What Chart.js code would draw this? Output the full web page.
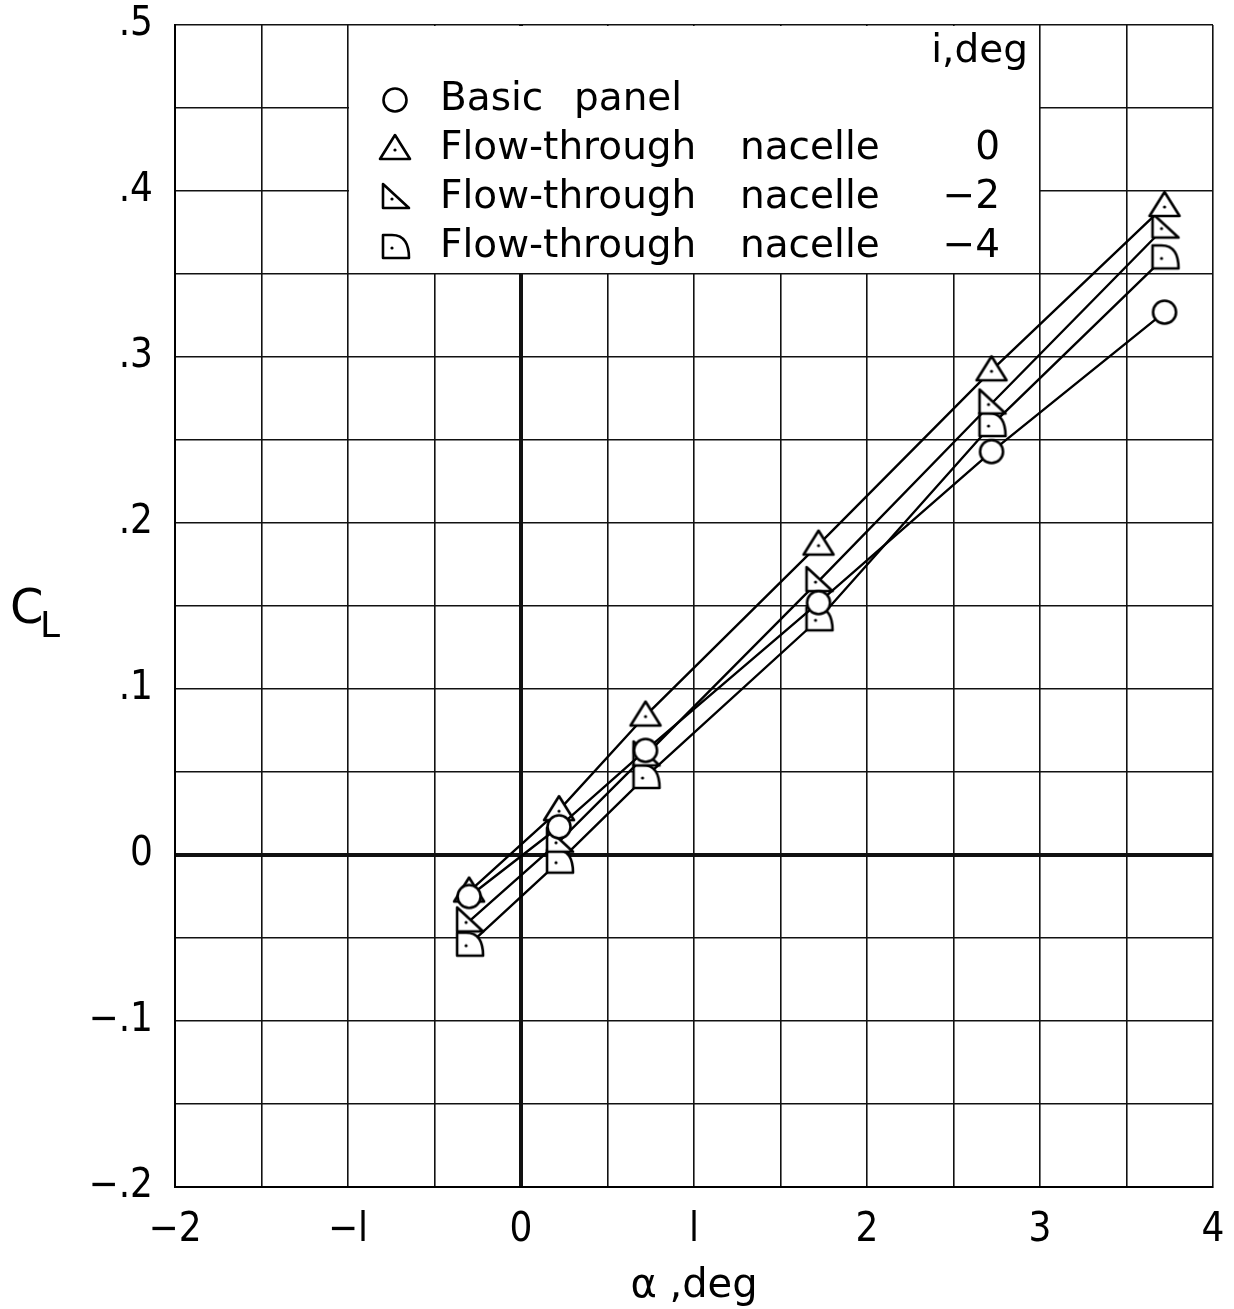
<!DOCTYPE html>
<html><head><meta charset="utf-8">
<script src="https://cdn.jsdelivr.net/npm/chart.js@4.4.1/dist/chart.umd.min.js"></script>
<style>html,body{margin:0;padding:0;background:#fff;}#wrap{width:1234px;height:1309px;position:relative}</style>
</head><body><div id="wrap"><canvas id="c" width="1234" height="1309"></canvas></div>
<script>
// ---- data ----
const alphaDeg = [-0.3, 0.22, 0.72, 1.72, 2.72, 3.72];
const clBasic  = [-0.025, 0.017, 0.063, 0.152, 0.243, 0.327];
const clNac0   = [-0.022, 0.027, 0.084, 0.187, 0.292, 0.391];
const clNacM2  = [-0.040, 0.008, 0.060, 0.165, 0.272, 0.378];
const clNacM4  = [-0.054, -0.004, 0.047, 0.142, 0.259, 0.360];
const seriesNames = ['Basic panel', 'Flow-through nacelle', 'Flow-through nacelle', 'Flow-through nacelle'];
const incidenceDeg = ['', '0', '−2', '−4'];
const xTickValues = [-2, -1, 0, 1, 2, 3, 4];
const xTickLabels = ['−2', '−l', '0', 'l', '2', '3', '4'];
const yTickValues = [-0.2, -0.1, 0, 0.1, 0.2, 0.3, 0.4, 0.5];
const yTickLabels = ['−.2', '−.1', '0', '.1', '.2', '.3', '.4', '.5'];

const FONT = "'DejaVu Sans',sans-serif";
const FONTC = "'DejaVu Sans Condensed','DejaVu Sans',sans-serif";

// ---- marker images ----
function mk(kind) {
  const s = 36, c = document.createElement('canvas');
  c.width = s; c.height = s;
  const g = c.getContext('2d');
  g.lineWidth = 2.6; g.strokeStyle = '#000'; g.fillStyle = '#fff';
  g.lineJoin = 'round';
  const m = s / 2;
  g.beginPath();
  if (kind === 'circle') {
    g.arc(m, m, 11.5, 0, Math.PI * 2);
  } else if (kind === 'tri') {
    g.moveTo(m, m - 14); g.lineTo(m + 15, m + 10); g.lineTo(m - 15, m + 10); g.closePath();
  } else if (kind === 'rtri') {
    g.moveTo(m - 12, m - 14); g.lineTo(m + 14, m + 10); g.lineTo(m - 12, m + 10); g.closePath();
  } else if (kind === 'quad') {
    g.moveTo(m - 12, m - 12); g.lineTo(m - 3, m - 12);
    g.bezierCurveTo(m + 10, m - 12, m + 14, m - 2, m + 14, m + 11);
    g.lineTo(m - 12, m + 11); g.closePath();
  }
  g.fill(); g.stroke();
  if (kind !== 'circle') {
    g.fillStyle = '#000';
    g.beginPath(); g.arc(kind === 'tri' ? m : m - 3, m + 1, 1.6, 0, Math.PI * 2); g.fill();
  }
  return c;
}
const markers = [mk('circle'), mk('tri'), mk('rtri'), mk('quad')];

function pts(ys) { return alphaDeg.map((x, i) => ({ x: x, y: ys[i] })); }

const seriesData = [clBasic, clNac0, clNacM2, clNacM4];
const datasets = seriesData.map((ys, i) => ({
  label: seriesNames[i] + (incidenceDeg[i] ? ' ' + incidenceDeg[i] : ''),
  data: pts(ys),
  showLine: true,
  borderColor: '#000',
  borderWidth: 2.4,
  pointStyle: markers[i],
  pointRadius: 14,
  pointHoverRadius: 14,
  fill: false,
  tension: 0
}));

function near(v, arr) {
  for (let i = 0; i < arr.length; i++) if (Math.abs(arr[i] - v) < 1e-6) return i;
  return -1;
}

const overlay = {
  id: 'overlay',
  beforeDatasetsDraw(chart) {
    const { ctx, scales: { x, y } } = chart;
    const l = x.getPixelForValue(-1), r = x.getPixelForValue(3);
    const t = y.getPixelForValue(0.5), b = y.getPixelForValue(0.35);
    ctx.save();
    ctx.fillStyle = '#fff';
    ctx.fillRect(l + 1, t + 1, r - l - 2, b - t - 2);
    ctx.restore();
  },
  afterDraw(chart) {
    const { ctx, scales: { x, y } } = chart;
    ctx.save();
    ctx.fillStyle = '#000';
    ctx.textBaseline = 'middle';
    ctx.font = '39px ' + FONT;
    ctx.textAlign = 'right';
    ctx.fillText('i,deg', 1028, 52);
    const rows = [100, 149, 198, 247];
    rows.forEach((ry, i) => {
      ctx.drawImage(markers[i], 395 - 18, ry - 18, 36, 36);
      ctx.textAlign = 'left';
      if (i === 0) {
        ctx.fillText('Basic', 440, ry);
        ctx.fillText('panel', 574, ry);
      } else {
        ctx.fillText('Flow-through', 440, ry);
        ctx.fillText('nacelle', 740, ry);
        ctx.textAlign = 'right';
        ctx.fillText(incidenceDeg[i], 1000, ry);
      }
    });
    // y title C_L
    ctx.textAlign = 'left';
    ctx.font = '48px ' + FONT;
    ctx.fillText('C', 10, 611);
    ctx.font = '36px ' + FONT;
    ctx.fillText('L', 40, 628);
    // x title
    ctx.textAlign = 'center';
    ctx.font = '40px ' + FONT;
    ctx.fillText('α ,deg', (x.left + x.right) / 2, 1287);
    ctx.restore();
  }
};

new Chart(document.getElementById('c'), {
  type: 'scatter',
  data: { datasets },
  options: {
    responsive: false,
    animation: false,
    devicePixelRatio: 1,
    layout: { padding: { top: 25, right: 21, left: 0, bottom: 0 } },
    plugins: { legend: { display: false }, tooltip: { enabled: false } },
    scales: {
      x: {
        type: 'linear', min: -2, max: 4,
        afterFit(s) { s.height = 122; s.paddingLeft = 0; s.paddingRight = 0; },
        afterBuildTicks(s) {
          const arr = []; for (let k = 0; k <= 12; k++) arr.push({ value: -2 + k * 0.5 });
          s.ticks = arr;
        },
        ticks: {
          autoSkip: false, maxRotation: 0, padding: 20, color: '#000',
          font: { size: 40, family: FONTC },
          callback(v) { const i = near(v, xTickValues); return i >= 0 ? xTickLabels[i] : ''; }
        },
        grid: {
          color: '#111',
          lineWidth: (c) => (c.tick && Math.abs(c.tick.value) < 1e-6 ? 4 : 1.6),
          drawTicks: false
        },
        border: { display: true, color: '#000', width: 2 }
      },
      y: {
        type: 'linear', min: -0.2, max: 0.5,
        afterFit(s) { s.width = 175; s.paddingTop = 0; s.paddingBottom = 0; },
        afterBuildTicks(s) {
          const arr = []; for (let k = 0; k <= 14; k++) arr.push({ value: Math.round((-0.2 + k * 0.05) * 100) / 100 });
          s.ticks = arr;
        },
        ticks: {
          autoSkip: false, padding: 22, color: '#000',
          font: { size: 40, family: FONTC },
          callback(v) { const i = near(v, yTickValues); return i >= 0 ? yTickLabels[i] : ''; }
        },
        grid: {
          color: '#111',
          lineWidth: (c) => (c.tick && Math.abs(c.tick.value) < 1e-6 ? 4 : 1.6),
          drawTicks: false
        },
        border: { display: true, color: '#000', width: 2 }
      }
    }
  },
  plugins: [overlay]
});
</script></body></html>
